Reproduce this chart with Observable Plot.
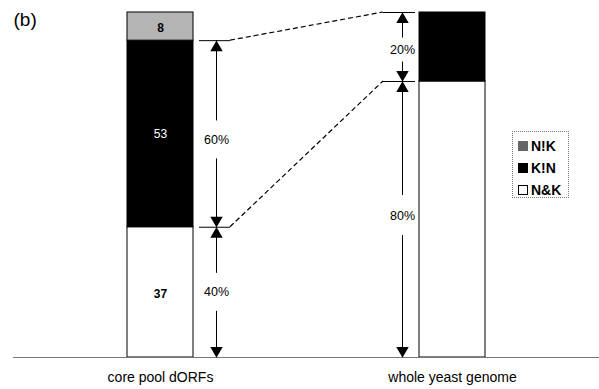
<!DOCTYPE html>
<html><head><meta charset="utf-8">
<script src="https://cdn.jsdelivr.net/npm/d3@7"></script>
<script src="https://cdn.jsdelivr.net/npm/@observablehq/plot@0.6"></script>
<style>
body{margin:0;background:#fff;}
#wrap{position:relative;width:599px;height:389px;font-family:"Liberation Sans",Arial,sans-serif;}
#legend{position:absolute;left:512px;top:131px;width:57px;height:67px;border:1px dotted #777;box-sizing:border-box;padding:3px 0 0 5px;}
#legend .item{display:flex;align-items:center;height:22px;font-weight:bold;font-size:14px;color:#000;}
#legend .sw{display:inline-block;width:10px;height:10px;box-sizing:border-box;margin-right:3px;}
</style></head><body><div id="wrap"></div>
<script>
const panelLabel = "(b)";
const categories = ["core pool dORFs", "whole yeast genome"];
const groups = ["N&K", "K!N", "N!K"];
const groupColors = ["#ffffff", "#000000", "#b4b4b4"];
const legendSwatchColors = ["#ffffff", "#000000", "#666666"];
const coreCounts = [37, 53, 8];
const genomePercents = [80, 20, 0];
const coreArrowLabels = ["40%", "60%"];
const genomeArrowLabels = ["80%", "20%"];

const [core, genome] = categories;
const rows = [
  ...groups.map((g, i) => ({cat: core, group: g, value: coreCounts[i]})),
  ...groups.map((g, i) => ({cat: genome, group: g, value: genomePercents[i]}))
];
const coreRows = rows.filter(d => d.cat === core);

const cumCore = Array.from(d3.cumsum(coreCounts), v => v / d3.sum(coreCounts));
const cumGenome = Array.from(d3.cumsum(genomePercents), v => v / d3.sum(genomePercents));

const coreArrows = [
  {cat: core, y1: 0, y2: cumCore[0], label: coreArrowLabels[0]},
  {cat: core, y1: cumCore[0], y2: cumCore[1], label: coreArrowLabels[1]}
];
const genomeArrows = [
  {cat: genome, y1: 0, y2: cumGenome[0], label: genomeArrowLabels[0]},
  {cat: genome, y1: cumGenome[0], y2: cumGenome[1], label: genomeArrowLabels[1]}
];
const connectors = [
  {ya: cumCore[0], yb: cumGenome[0]},
  {ya: cumCore[1], yb: cumGenome[1]}
];

function arrowMarks(d, dx, gap, labelDy = 0) {
  const mid = (d.y1 + d.y2) / 2;
  const data = [d];
  return [
    // upper shaft: from top (y2) down to the label gap
    Plot.ruleX(data, {x: "cat", y1: "y2", y2: () => mid, dx, insetBottom: gap - labelDy, stroke: "#000"}),
    // lower shaft: from the label gap down to bottom (y1)
    Plot.ruleX(data, {x: "cat", y1: () => mid, y2: "y1", dx, insetTop: gap + labelDy, stroke: "#000"}),
    Plot.dot(data, {x: "cat", y: "y2", symbol: "triangle", r: 4.6, fill: "#000", stroke: null, dx, dy: 7}),
    Plot.dot(data, {x: "cat", y: "y1", symbol: "triangle", r: 4.6, fill: "#000", stroke: null, rotate: 180, dx, dy: -7}),
    Plot.text(data, {x: "cat", y: () => mid, text: "label", dx, dy: labelDy, fontSize: 12.5, fill: "#000"})
  ];
}

const LDX = 56, RDX = -50;

const chart = Plot.plot({
  width: 599,
  height: 389,
  marginLeft: 13,
  marginRight: 0,
  marginTop: 12,
  marginBottom: 32,
  style: {fontFamily: '"Liberation Sans", Arial, sans-serif', background: "#fff"},
  x: {type: "band", domain: categories, paddingInner: 0.774, paddingOuter: 0.39, axis: null},
  y: {domain: [0, 1], axis: null},
  color: {domain: groups, range: groupColors},
  marks: [
    Plot.barY(rows.filter(d => d.value > 0), Plot.stackY({x: "cat", y: "value", fill: "group", offset: "normalize", stroke: "#000", strokeWidth: 1})),
    Plot.text(coreRows, Plot.stackY({x: "cat", y: "value", offset: "normalize", text: d => d.group === "K!N" ? String(d.value) : null, fill: "#fff", fontSize: 12})),
    Plot.text(coreRows, Plot.stackY({x: "cat", y: "value", offset: "normalize", text: d => d.group !== "K!N" ? String(d.value) : null, fill: "#000", fontWeight: "bold", fontSize: 12, dy: 2})),
    Plot.ruleY([0], {stroke: "#777"}),
    Plot.axisX({tickSize: 0, tickPadding: 15, fontSize: 14, label: null}),
    arrowMarks(coreArrows[0], LDX, 19, 0),
    arrowMarks(coreArrows[1], LDX, 19, 6),
    arrowMarks(genomeArrows[0], RDX, 20, -4),
    arrowMarks(genomeArrows[1], RDX, 12, 3),
    Plot.tickY(connectors, {x: () => core, y: "ya", dx: 72, insetRight: 35, stroke: "#000"}),
    Plot.tickY(connectors, {x: () => genome, y: "yb", dx: -36, insetRight: 34, stroke: "#000"}),
    (index, {x, y}) => {
      const g = d3.create("svg:g");
      const bw = x.bandwidth();
      for (const c of connectors) {
        g.append("line")
          .attr("x1", x(core) + bw + 37).attr("y1", y(c.ya))
          .attr("x2", x(genome) - 36).attr("y2", y(c.yb))
          .attr("stroke", "#000").attr("stroke-width", 1.2)
          .attr("stroke-dasharray", "5,3");
      }
      return g.node();
    },
    Plot.text([panelLabel], {frameAnchor: "top-left", text: d => d, fontSize: 19, lineAnchor: "top", textAnchor: "start", dy: 0})
  ]
});
const wrap = document.getElementById("wrap");
wrap.appendChild(chart);

const legend = document.createElement("div");
legend.id = "legend";
[...groups].map((g, i) => ({g, c: legendSwatchColors[i]})).reverse().forEach(({g, c}) => {
  const item = document.createElement("div");
  item.className = "item";
  const sw = document.createElement("span");
  sw.className = "sw";
  sw.style.background = c;
  if (c === "#ffffff") sw.style.border = "1.5px solid #000";
  item.appendChild(sw);
  item.appendChild(document.createTextNode(g));
  legend.appendChild(item);
});
wrap.appendChild(legend);
</script>
</body></html>
